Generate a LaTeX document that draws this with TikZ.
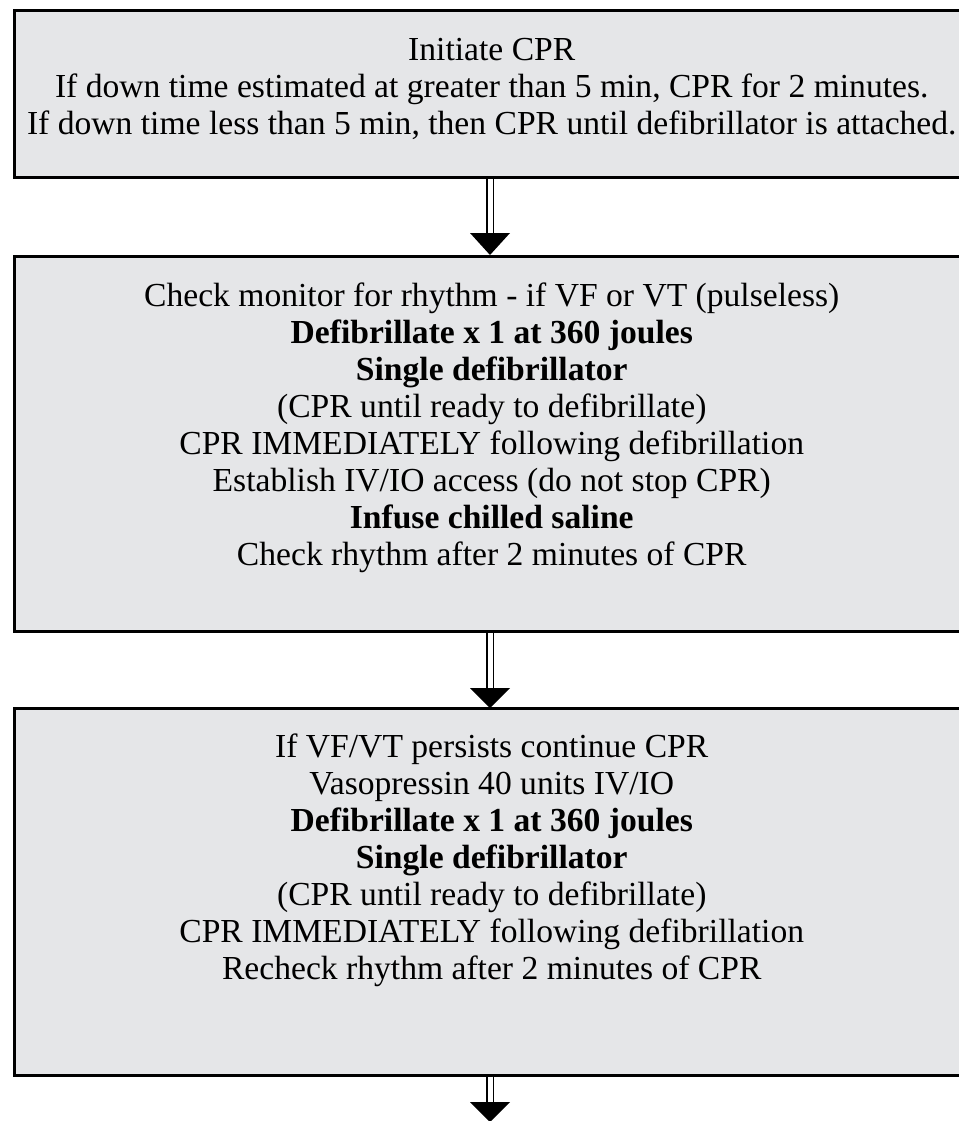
\documentclass[tikz,border=0pt]{standalone}
\usepackage{fontspec}
\setmainfont{Liberation Serif}
\definecolor{boxgray}{HTML}{E5E6E8}
\begin{document}
\begin{tikzpicture}[x=1pt,y=-1pt,
  stepbox/.style={draw=black, line width=3pt, fill=boxgray, inner sep=0pt,
    minimum width=955.5pt},
  steptext/.style={align=center, anchor=north, inner sep=0pt,
    font=\fontsize{33.6}{37}\selectfont},
  shaft/.style={draw=black, double=white, double distance=5pt, line width=1.4pt},
  headfill/.style={fill=black}]
\useasboundingbox (0,0) rectangle (958,1121);

% the three step boxes
\node[stepbox, minimum height=166.5pt] (b1) at (491.75,94.25) {};
\node[stepbox, minimum height=375.5pt] (b2) at (491.75,443.75) {};
\node[stepbox, minimum height=367pt]   (b3) at (491.75,891.5) {};

% their texts
\node[steptext] (x1) at (491.75,38)
  {Initiate CPR\\
   If down time estimated at greater than 5 min, CPR for 2 minutes.\\
   If down time less than 5 min, then CPR until defibrillator is attached.};

\node[steptext] (x2) at (491.75,283)
  {Check monitor for rhythm - if VF or VT (pulseless)\\
   \textbf{Defibrillate x 1 at 360 joules}\\
   \textbf{Single defibrillator}\\
   (CPR until ready to defibrillate)\\
   CPR IMMEDIATELY following defibrillation\\
   Establish IV/IO access (do not stop CPR)\\
   \textbf{Infuse chilled saline}\\
   Check rhythm after 2 minutes of CPR};

\node[steptext] (x3) at (491.75,734)
  {If VF/VT persists continue CPR\\
   Vasopressin 40 units IV/IO\\
   \textbf{Defibrillate x 1 at 360 joules}\\
   \textbf{Single defibrillator}\\
   (CPR until ready to defibrillate)\\
   CPR IMMEDIATELY following defibrillation\\
   Recheck rhythm after 2 minutes of CPR};

% arrow head positions
\coordinate (h1) at (490,233);
\coordinate (t1) at (490,255);
\coordinate (h2) at (490,688);
\coordinate (t2) at (490,708);
\coordinate (h3) at (490,1102);
\coordinate (t3) at (490,1122);

% double-line shafts with solid triangular heads
\draw[shaft] (b1.south -| h1) -- (h1);
\fill[headfill] ([xshift=-20pt]h1) -- ([xshift=20pt]h1) -- (t1) -- cycle;

\draw[shaft] (b2.south -| h2) -- (h2);
\fill[headfill] ([xshift=-20pt]h2) -- ([xshift=20pt]h2) -- (t2) -- cycle;

\draw[shaft] (b3.south -| h3) -- (h3);
\fill[headfill] ([xshift=-20pt]h3) -- ([xshift=20pt]h3) -- (t3) -- cycle;
\end{tikzpicture}
\end{document}
